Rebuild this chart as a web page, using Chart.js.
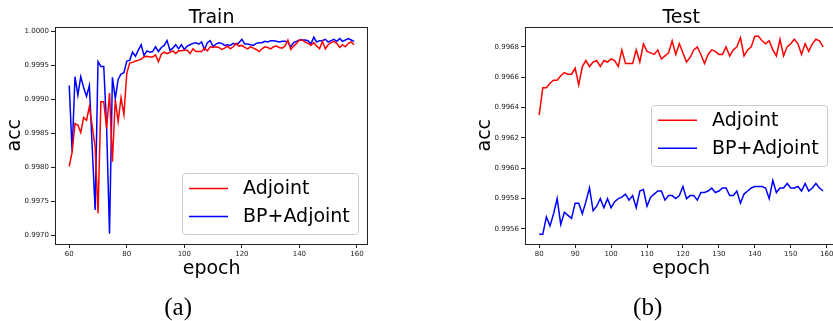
<!DOCTYPE html>
<html>
<head>
<meta charset="utf-8">
<script src="https://cdn.jsdelivr.net/npm/chart.js@4"></script>
<style>
html, body { margin: 0; padding: 0; background: #fff; overflow: hidden; width: 833px; height: 321px; }
#trainChart { position: absolute; left: 0; top: 0; }
#testChart { position: absolute; left: 420px; top: 0; }
</style>
</head>
<body>
<canvas id="trainChart" width="420" height="321"></canvas>
<canvas id="testChart" width="430" height="321"></canvas>
<script>
const seriesLabels = ['Adjoint', 'BP+Adjoint'];
const seriesColors = ['#ff0000', '#0000ff'];

// Train panel, epochs 60..159
const trainStart = 60;
const trainAdjoint = [
    0.99801, 0.99822, 0.99864, 0.99862, 0.99851, 0.99873, 0.99869, 0.99889, 0.99860, 0.99830,
    0.99732, 0.99896, 0.99896, 0.99857, 0.99909, 0.99808, 0.99899, 0.99867, 0.99902, 0.99877,
    0.99938, 0.99953, 0.99954, 0.99956, 0.99957, 0.99959, 0.99962, 0.99963, 0.99962, 0.99962,
    0.99965, 0.99955, 0.99966, 0.99969, 0.99967, 0.99969, 0.99971, 0.99967, 0.99971, 0.99971,
    0.99972, 0.99972, 0.99967, 0.99974, 0.99970, 0.99970, 0.99970, 0.99975, 0.99971, 0.99977,
    0.99976, 0.99977, 0.99976, 0.99973, 0.99975, 0.99978, 0.99974, 0.99977, 0.99982, 0.99978,
    0.99979, 0.99976, 0.99974, 0.99977, 0.99975, 0.99973, 0.99970, 0.99974, 0.99977, 0.99976,
    0.99974, 0.99977, 0.99978, 0.99976, 0.99975, 0.99978, 0.99987, 0.99973, 0.99978, 0.99982,
    0.99987, 0.99987, 0.99984, 0.99982, 0.99979, 0.99983, 0.99978, 0.99974, 0.99985, 0.99974,
    0.99980, 0.99983, 0.99985, 0.99982, 0.99976, 0.99980, 0.99977, 0.99982, 0.99984, 0.99980
];
const trainBPAdjoint = [
    0.99920, 0.99823, 0.99933, 0.99906, 0.99933, 0.99917, 0.99904, 0.99920, 0.99828, 0.99737,
    0.99955, 0.99948, 0.99948, 0.99857, 0.99702, 0.99932, 0.99901, 0.99929, 0.99937, 0.99939,
    0.99956, 0.99957, 0.99969, 0.99963, 0.99972, 0.99980, 0.99964, 0.99971, 0.99969, 0.99970,
    0.99977, 0.99970, 0.99976, 0.99979, 0.99986, 0.99972, 0.99975, 0.99980, 0.99974, 0.99980,
    0.99973, 0.99978, 0.99980, 0.99982, 0.99983, 0.99981, 0.99984, 0.99973, 0.99983, 0.99986,
    0.99977, 0.99981, 0.99983, 0.99982, 0.99979, 0.99980, 0.99979, 0.99982, 0.99980, 0.99983,
    0.99988, 0.99981, 0.99981, 0.99980, 0.99979, 0.99982, 0.99983, 0.99983, 0.99985, 0.99984,
    0.99986, 0.99986, 0.99985, 0.99984, 0.99985, 0.99985, 0.99984, 0.99977, 0.99983, 0.99985,
    0.99987, 0.99987, 0.99987, 0.99986, 0.99981, 0.99991, 0.99984, 0.99986, 0.99986, 0.99988,
    0.99984, 0.99986, 0.99988, 0.99985, 0.99989, 0.99985, 0.99987, 0.99989, 0.99987, 0.99985
];
const trainXTicks = [60, 80, 100, 120, 140, 160];
const trainYTicks = [0.9970, 0.9975, 0.9980, 0.9985, 0.9990, 0.9995, 1.0000];

// Test panel, epochs 80..159
const testStart = 80;
const testAdjoint = [
    0.99635, 0.99653, 0.99653, 0.99656, 0.99658, 0.99658, 0.99661, 0.99663, 0.99662, 0.99662,
    0.99666, 0.99655, 0.99667, 0.99671, 0.99667, 0.99670, 0.99671, 0.99667, 0.99671, 0.99670,
    0.99672, 0.99671, 0.99667, 0.99678, 0.99669, 0.99669, 0.99669, 0.99678, 0.99670, 0.99682,
    0.99677, 0.99676, 0.99675, 0.99678, 0.99672, 0.99674, 0.99676, 0.99684, 0.99675, 0.99682,
    0.99676, 0.99670, 0.99673, 0.99678, 0.99680, 0.99675, 0.99669, 0.99675, 0.99678, 0.99677,
    0.99675, 0.99675, 0.99680, 0.99674, 0.99678, 0.99680, 0.99686, 0.99674, 0.99678, 0.99680,
    0.99687, 0.99687, 0.99684, 0.99682, 0.99684, 0.99678, 0.99674, 0.99685, 0.99674, 0.99680,
    0.99682, 0.99685, 0.99682, 0.99675, 0.99682, 0.99677, 0.99682, 0.99685, 0.99684, 0.99680
];
const testBPAdjoint = [
    0.995565, 0.995565, 0.99568, 0.99562, 0.99570, 0.99580, 0.99563, 0.99571, 0.99569, 0.99567,
    0.99577, 0.99577, 0.99570, 0.99578, 0.99587, 0.99572, 0.99575, 0.99580, 0.99574, 0.99580,
    0.99574, 0.99578, 0.99580, 0.99581, 0.99583, 0.99579, 0.99582, 0.99574, 0.99585, 0.99586,
    0.99575, 0.99581, 0.99583, 0.99585, 0.99585, 0.99579, 0.99582, 0.99582, 0.99580, 0.99582,
    0.99588, 0.99580, 0.99582, 0.99582, 0.99579, 0.99584, 0.99584, 0.99585, 0.99587, 0.99584,
    0.99585, 0.99587, 0.99587, 0.99582, 0.99582, 0.99585, 0.99577, 0.99583, 0.99585, 0.99587,
    0.99588, 0.99588, 0.99588, 0.99587, 0.99580, 0.99592, 0.99584, 0.99587, 0.99587, 0.99590,
    0.99587, 0.99587, 0.99588, 0.99585, 0.99590, 0.99585, 0.99587, 0.99590, 0.99587, 0.99585
];
const testXTicks = [80, 90, 100, 110, 120, 130, 140, 150, 160];
const testYTicks = [0.9956, 0.9958, 0.9960, 0.9962, 0.9964, 0.9966, 0.9968];

const FONT = 'DejaVu Sans, sans-serif';

function toPoints(start, values) {
    return values.map((v, i) => ({ x: start + i, y: v }));
}

// frame, titles, axis labels, caption and legend drawn around the chart area
const panelDecor = {
    id: 'panelDecor',
    afterDraw(chart, args, opts) {
        const ctx = chart.ctx;
        const a = chart.chartArea;
        const cx = (a.left + a.right) / 2;
        const cy = (a.top + a.bottom) / 2;
        ctx.save();

        ctx.strokeStyle = '#222';
        ctx.lineWidth = 1;
        ctx.strokeRect(Math.round(a.left) + 0.5, Math.round(a.top) + 0.5,
            Math.round(a.right - a.left) - 1, Math.round(a.bottom - a.top) - 1);

        ctx.fillStyle = '#000';
        ctx.font = '19px ' + FONT;
        ctx.textAlign = 'center';
        ctx.textBaseline = 'alphabetic';
        ctx.fillText(opts.title, cx, a.top - 4);
        ctx.fillText(opts.xLabel, cx, a.bottom + 29.5);

        ctx.save();
        ctx.translate(a.left - 35, cy);
        ctx.rotate(-Math.PI / 2);
        ctx.fillText(opts.yLabel, 0, 0);
        ctx.restore();

        ctx.font = '25px "Liberation Serif", serif';
        ctx.fillText(opts.caption, cx - 33.5, 315);

        // legend box
        const w = 176, h = 61;
        const bx = a.right - 10.3 - w;
        const by = opts.legendPos === 'lower right' ? a.bottom - 10 - h : cy - h / 2;
        ctx.beginPath();
        ctx.roundRect(Math.round(bx) + 0.5, Math.round(by) + 0.5, w, h, 3);
        ctx.fillStyle = 'rgba(255,255,255,0.8)';
        ctx.fill();
        ctx.strokeStyle = '#cccccc';
        ctx.stroke();

        ctx.font = '19px ' + FONT;
        ctx.textAlign = 'left';
        chart.data.datasets.forEach((ds, i) => {
            const ry = by + 15.5 + i * 28;
            ctx.beginPath();
            ctx.moveTo(bx + 7, ry);
            ctx.lineTo(bx + 46, ry);
            ctx.strokeStyle = ds.borderColor;
            ctx.lineWidth = 1.5;
            ctx.stroke();
            ctx.fillStyle = '#000';
            ctx.fillText(ds.label, bx + 61, by + 21.3 + i * 28);
        });
        ctx.restore();
    }
};

function makeChart(id, cfg) {
    const ctx = document.getElementById(id).getContext('2d');
    const datasets = cfg.series.map((vals, i) => ({
        label: seriesLabels[i],
        data: toPoints(cfg.start, vals),
        borderColor: seriesColors[i],
        borderWidth: 1.5,
        pointRadius: 0,
        tension: 0,
        fill: false
    }));
    const tickFont = { family: FONT, size: 7 };
    return new Chart(ctx, {
        type: 'line',
        data: { datasets: datasets },
        plugins: [panelDecor],
        options: {
            responsive: false,
            animation: false,
            events: [],
            layout: { padding: { top: 26.5, right: cfg.padRight, left: 0, bottom: 0 } },
            plugins: {
                legend: { display: false },
                tooltip: { enabled: false },
                panelDecor: {
                    title: cfg.title,
                    xLabel: 'epoch',
                    yLabel: 'acc',
                    caption: cfg.caption,
                    legendPos: cfg.legendPos
                }
            },
            scales: {
                x: {
                    type: 'linear',
                    bounds: 'data',
                    min: cfg.xMin,
                    max: cfg.xMax,
                    afterBuildTicks: s => { s.ticks = cfg.xTicks.map(v => ({ value: v })); },
                    afterFit: s => { s.height = 77; },
                    border: { display: false },
                    grid: { drawOnChartArea: false, tickLength: 4, color: '#222' },
                    ticks: { font: tickFont, color: '#222', padding: 2, maxRotation: 0, autoSkip: false,
                        callback: v => String(v) }
                },
                y: {
                    type: 'linear',
                    bounds: 'data',
                    min: cfg.yMin,
                    max: cfg.yMax,
                    afterBuildTicks: s => { s.ticks = cfg.yTicks.map(v => ({ value: v })); },
                    afterFit: s => { s.width = cfg.yWidth; },
                    border: { display: false },
                    grid: { drawOnChartArea: false, tickLength: 4, color: '#222' },
                    ticks: { font: tickFont, color: '#222', padding: 2, autoSkip: false,
                        callback: v => v.toFixed(4) }
                }
            }
        }
    });
}

makeChart('trainChart', {
    series: [trainAdjoint, trainBPAdjoint],
    start: trainStart,
    title: 'Train',
    caption: '(a)',
    legendPos: 'lower right',
    xTicks: trainXTicks, yTicks: trainYTicks,
    xMin: 55.05, xMax: 163.95,
    yMin: 0.99687, yMax: 1.000068,
    yWidth: 55, padRight: 51.7
});

makeChart('testChart', {
    series: [testAdjoint, testBPAdjoint],
    start: testStart,
    title: 'Test',
    caption: '(b)',
    legendPos: 'center right',
    xTicks: testXTicks, yTicks: testYTicks,
    xMin: 76.05, xMax: 162.95,
    yMin: 0.995501, yMax: 0.996934,
    yWidth: 105, padRight: 12.7
});
</script>
</body>
</html>
